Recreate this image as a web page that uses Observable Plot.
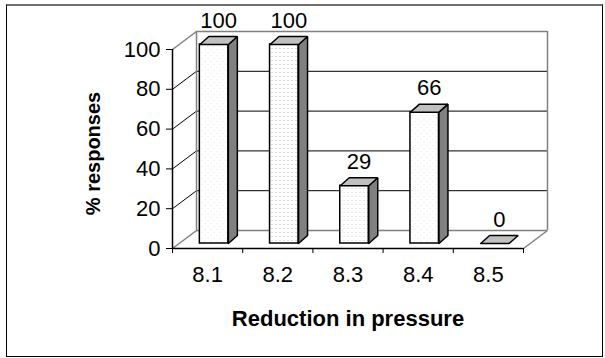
<!DOCTYPE html>
<html>
<head>
<meta charset="utf-8">
<script src="https://cdn.jsdelivr.net/npm/d3@7"></script>
<script src="https://cdn.jsdelivr.net/npm/@observablehq/plot@0.6"></script>
<style>
  html, body { margin: 0; padding: 0; background: #fff; }
  #wrap { position: relative; width: 605px; height: 358px; overflow: hidden; }
  #frame { position: absolute; left: 6px; top: 4px; width: 597px; height: 353px; box-sizing: border-box;
           border: 1px solid #000; border-top: 2px solid #707070; pointer-events: none; }
  #chart { position: absolute; left: 0; top: 0; }
</style>
</head>
<body>
<div id="wrap"><div id="chart"></div><div id="frame"></div></div>
<script>
// ---- data ----
const categories = ["8.1", "8.2", "8.3", "8.4", "8.5"];
const responses = [100, 100, 29, 66, 0];
const yTicks = [0, 20, 40, 60, 80, 100];
const xTitle = "Reduction in pressure";
const yTitle = "% responses";

// ---- layout (pixels) ----
const W = 605, H = 358, mL = 172, mR = 82, mT = 49, mB = 110;
const pxX = (W - mL - mR) / categories.length;   // px per category unit
const pxY = (H - mT - mB) / 100;                 // px per percent
const WALL = {x: 24, y: -18};     // depth of the box
const FRONT = {x: 6.5, y: -5};    // bar front face offset
const BAR = {x: 9, y: -8};        // bar depth
const BW = 28.5;                  // bar width px
const ux = px => px / pxX;        // pixel offset -> x units
const uy = px => -px / pxY;       // pixel offset -> y units

const bw = ux(BW), bx = ux(BAR.x), by = uy(BAR.y);
const wx = ux(WALL.x), wy = uy(WALL.y);

const bars = categories.map((c, i) => ({
  c, i, v: responses[i],
  xl: i + 0.5 - bw / 2, xr: i + 0.5 + bw / 2
}));

const patternOf = ["pA", "pB", "pC", "pA", "pA"];

const sides = [], tops = [];
bars.forEach(d => {
  if (d.v > 0) {
    [[d.xr, 0], [d.xr, d.v], [d.xr + bx, d.v + by], [d.xr + bx, by], [d.xr, 0]]
      .forEach(([x, y]) => sides.push({id: d.i, x, y}));
  }
  [[d.xl, d.v], [d.xr, d.v], [d.xr + bx, d.v + by], [d.xl + bx, d.v + by], [d.xl, d.v]]
    .forEach(([x, y]) => tops.push({id: d.i, x, y}));
});

const gridInner = yTicks.filter(t => t > 0 && t < 100);
const nCat = categories.length;

const frontMarks = ["pA", "pB", "pC"].map(p =>
  Plot.rect(bars.filter(d => d.v > 0 && patternOf[d.i] === p), {
    x1: "xl", x2: "xr", y1: () => 0, y2: "v",
    dx: FRONT.x, dy: FRONT.y, fill: `url(#${p})`, stroke: "black", strokeWidth: 1.5
  })
);

const svg = Plot.plot({
  width: W, height: H,
  marginLeft: mL, marginRight: mR, marginTop: mT, marginBottom: mB,
  style: {fontFamily: "'Liberation Sans', Arial, sans-serif", fontSize: "22px", color: "black", background: "transparent", overflow: "visible"},
  x: {domain: [0, nCat], axis: null},
  y: {domain: [0, 100], ticks: yTicks, tickSize: 6, tickPadding: 6, label: null, axis: "left"},
  marks: [
    // back wall gridlines
    Plot.ruleY(gridInner, {x1: 0, x2: nCat, dx: WALL.x, dy: WALL.y, stroke: "black", strokeWidth: 1}),
    // left wall gridlines
    Plot.link(gridInner, {x1: 0, y1: d => d, x2: wx, y2: d => d + wy, stroke: "black", strokeWidth: 1}),
    // wall / floor borders (grey)
    Plot.ruleY([0, 100], {x1: 0, x2: nCat, dx: WALL.x, dy: WALL.y, stroke: "#808080", strokeWidth: 1.5}),
    Plot.ruleX([0, nCat], {y1: 0, y2: 100, dx: WALL.x, dy: WALL.y, stroke: "#808080", strokeWidth: 1.5}),
    Plot.link([0, nCat], {x1: d => d, y1: 0, x2: d => d + wx, y2: wy, stroke: "#808080", strokeWidth: 1.5}),
    Plot.link([100], {x1: 0, y1: d => d, x2: wx, y2: d => d + wy, stroke: "#808080", strokeWidth: 1.5}),
    // front axes
    Plot.ruleX([0], {y1: 0, y2: 100, stroke: "black", strokeWidth: 1.5}),
    Plot.ruleY([0], {x1: 0, x2: nCat, stroke: "black", strokeWidth: 1.5}),
    Plot.ruleX(d3.range(nCat + 1), {y1: 0, y2: uy(5), stroke: "black", strokeWidth: 1}),
    // bars
    ...frontMarks,
    Plot.line(sides, {x: "x", y: "y", z: "id", dx: FRONT.x, dy: FRONT.y, fill: "#808080", stroke: "black", strokeWidth: 1.5, strokeLinejoin: "miter"}),
    Plot.line(tops, {x: "x", y: "y", z: "id", dx: FRONT.x, dy: FRONT.y, fill: "#c0c0c0", stroke: "black", strokeWidth: 1.5, strokeLinejoin: "miter"}),
    // value labels
    Plot.text(bars, {x: d => d.i + 0.5, y: "v", text: d => String(d.v), dx: 11, dy: -29, fontSize: 22, fill: "black"}),
    // category labels
    Plot.text(categories, {x: (d, i) => i + 0.5, frameAnchor: "bottom", lineAnchor: "middle", dy: 26, text: d => d, fontSize: 22, fill: "black"}),
    // axis titles
    Plot.text([xTitle], {frameAnchor: "bottom", lineAnchor: "middle", textAnchor: "middle", dy: 70, text: d => d, fontSize: 22, fontWeight: "bold", fill: "black"}),
    Plot.text([yTitle], {frameAnchor: "left", lineAnchor: "middle", textAnchor: "middle", rotate: -90, dx: -79, dy: 4.5, text: d => d, fontSize: 20, fontWeight: "bold", fill: "black"})
  ]
});

// patterns for bar faces
const ns = "http://www.w3.org/2000/svg";
const defs = document.createElementNS(ns, "defs");
defs.innerHTML = `
  <pattern id="pA" width="6" height="6" patternUnits="userSpaceOnUse">
    <rect width="6" height="6" fill="#fff"/>
    <rect x="0" y="0" width="1" height="1" fill="#e2e2e2"/>
    <rect x="3" y="3" width="1" height="1" fill="#e2e2e2"/>
  </pattern>
  <pattern id="pB" width="4" height="4" patternUnits="userSpaceOnUse">
    <rect width="4" height="4" fill="#fff"/>
    <rect x="1" y="1" width="1" height="1" fill="#b4b4b4"/>
  </pattern>
  <pattern id="pC" width="4" height="4" patternUnits="userSpaceOnUse">
    <rect width="4" height="4" fill="#fff"/>
    <rect x="1" y="1" width="1" height="1" fill="#d0d0d0"/>
  </pattern>`;
svg.insertBefore(defs, svg.firstChild);
document.getElementById("chart").appendChild(svg);
</script>
</body>
</html>
